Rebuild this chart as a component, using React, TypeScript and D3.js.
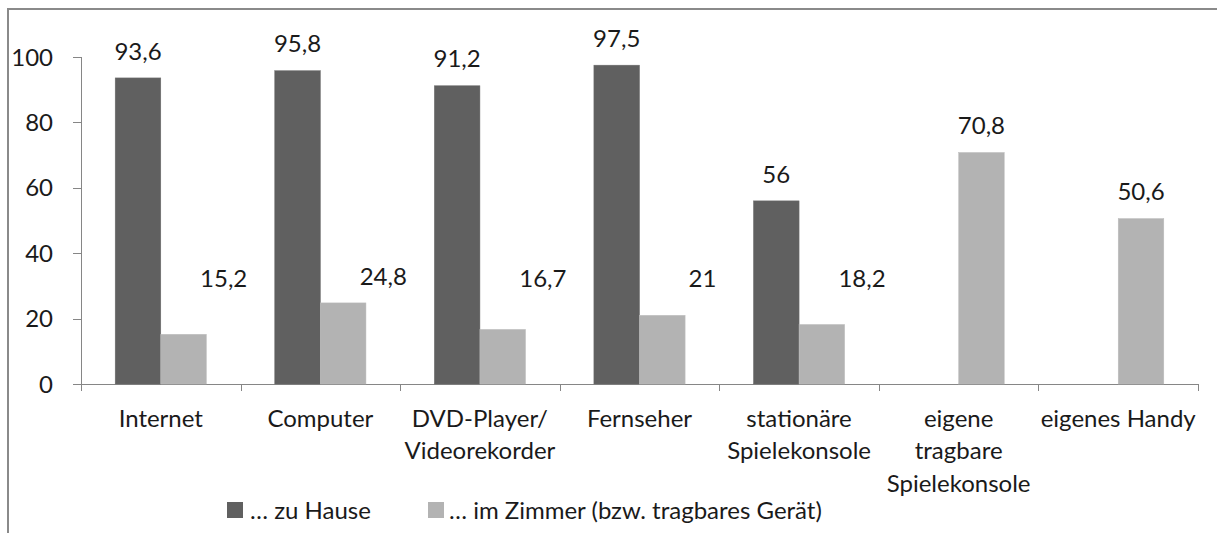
import React from "react";
import * as d3 from "d3";

const categories: string[][] = [
  ["Internet"],
  ["Computer"],
  ["DVD-Player/", "Videorekorder"],
  ["Fernseher"],
  ["stationäre", "Spielekonsole"],
  ["eigene", "tragbare", "Spielekonsole"],
  ["eigenes Handy"],
];
const zuHause: (number | null)[] = [93.6, 95.8, 91.2, 97.5, 56, null, null];
const imZimmer: number[] = [15.2, 24.8, 16.7, 21, 18.2, 70.8, 50.6];
const seriesNames = ["… zu Hause", "… im Zimmer (bzw. tragbares Gerät)"];
const yTicks = [0, 20, 40, 60, 80, 100];

const W = 1217;
const H = 533;
const DARK = "#606060";
const LIGHT = "#b3b3b3";
const AXIS = "#868686";
const FONT = "Lato, 'Open Sans', sans-serif";
const FS = 24;
const TXT = "#1a1a1a";

const fmt = (v: number) => String(v).replace(".", ",");

export default function App() {
  const x = d3
    .scaleBand<number>()
    .domain(d3.range(categories.length))
    .range([81, 1198])
    .padding(0);
  const inner = d3
    .scaleBand<number>()
    .domain([0, 1])
    .range([0, x.bandwidth()])
    .paddingInner(0)
    .paddingOuter(0.75);
  const y = d3.scaleLinear().domain([0, 100]).range([384, 57]);
  const bw = inner.bandwidth();
  const x0 = x.range()[0];
  const x1 = x.range()[1];
  const capHalf = FS * 0.36;

  return (
    <svg
      width={W}
      height={H}
      style={{ position: "absolute", left: 0, top: 0, background: "#fff" }}
      fontFamily={FONT}
    >
      <rect x={0} y={0} width={W} height={H} fill="#fff" />
      {/* frame */}
      <rect x={8} y={9} width={W + 20} height={H + 20} fill="none" stroke="#8a8a8a" strokeWidth={2} />

      {/* y axis */}
      <line x1={x0 + 0.5} x2={x0 + 0.5} y1={y(100)} y2={y(0)} stroke={AXIS} />
      {yTicks.map((t) => (
        <g key={t}>
          <line x1={73} x2={x0} y1={Math.round(y(t)) + 0.5} y2={Math.round(y(t)) + 0.5} stroke={AXIS} />
          <text x={53} y={y(t) + capHalf} textAnchor="end" fontSize={FS} fill={TXT}>
            {t}
          </text>
        </g>
      ))}

      {/* x axis */}
      <line x1={x0} x2={x1} y1={Math.round(y(0)) + 0.5} y2={Math.round(y(0)) + 0.5} stroke={AXIS} />
      {d3.range(categories.length + 1).map((i) => {
        const xx = Math.round(x0 + i * x.step()) + 0.5;
        return <line key={i} x1={xx} x2={xx} y1={y(0)} y2={y(0) + 7} stroke={AXIS} />;
      })}

      {/* bars */}
      {categories.map((_, i) => {
        const bx = x(i)!;
        const d = zuHause[i];
        const l = imZimmer[i];
        return (
          <g key={i}>
            {d != null && (
              <rect x={bx + inner(0)!} y={y(d)} width={bw} height={y(0) - y(d)} fill={DARK} stroke="#6a6a6a" strokeWidth={0.5} />
            )}
            <rect x={bx + inner(1)!} y={y(l)} width={bw} height={y(0) - y(l)} fill={LIGHT} stroke="#bdbdbd" strokeWidth={0.5} />
          </g>
        );
      })}

      {/* labels */}
      {categories.map((_, i) => {
        const bx = x(i)!;
        const d = zuHause[i];
        const l = imZimmer[i];
        const hasDark = d != null;
        const lx = bx + inner(1)! + bw / 2 + (hasDark ? bw * 0.88 : 0);
        const ly = y(hasDark ? Math.max(l, 24) : l) - 27;
        return (
          <g key={i} fontSize={FS} fill={TXT} textAnchor="middle">
            {d != null && (
              <text x={bx + inner(0)! + bw / 2} y={y(d) - 27 + capHalf}>
                {fmt(d)}
              </text>
            )}
            <text x={lx} y={ly + capHalf}>
              {fmt(l)}
            </text>
          </g>
        );
      })}

      {/* category labels */}
      {categories.map((lines, i) => (
        <text key={i} x={x(i)! + x.bandwidth() / 2} y={418 + capHalf} textAnchor="middle" fontSize={FS} fill={TXT}>
          {lines.map((ln, j) => (
            <tspan key={j} x={x(i)! + x.bandwidth() / 2} dy={j === 0 ? 0 : 32.5}>
              {ln}
            </tspan>
          ))}
        </text>
      ))}

      {/* legend */}
      <g fontSize={FS} fill={TXT}>
        <rect x={227} y={502} width={16} height={16} fill={DARK} />
        <text x={250} y={510 + capHalf}>{seriesNames[0]}</text>
        <rect x={428} y={502} width={16} height={16} fill={LIGHT} />
        <text x={449} y={510 + capHalf}>{seriesNames[1]}</text>
      </g>
    </svg>
  );
}
